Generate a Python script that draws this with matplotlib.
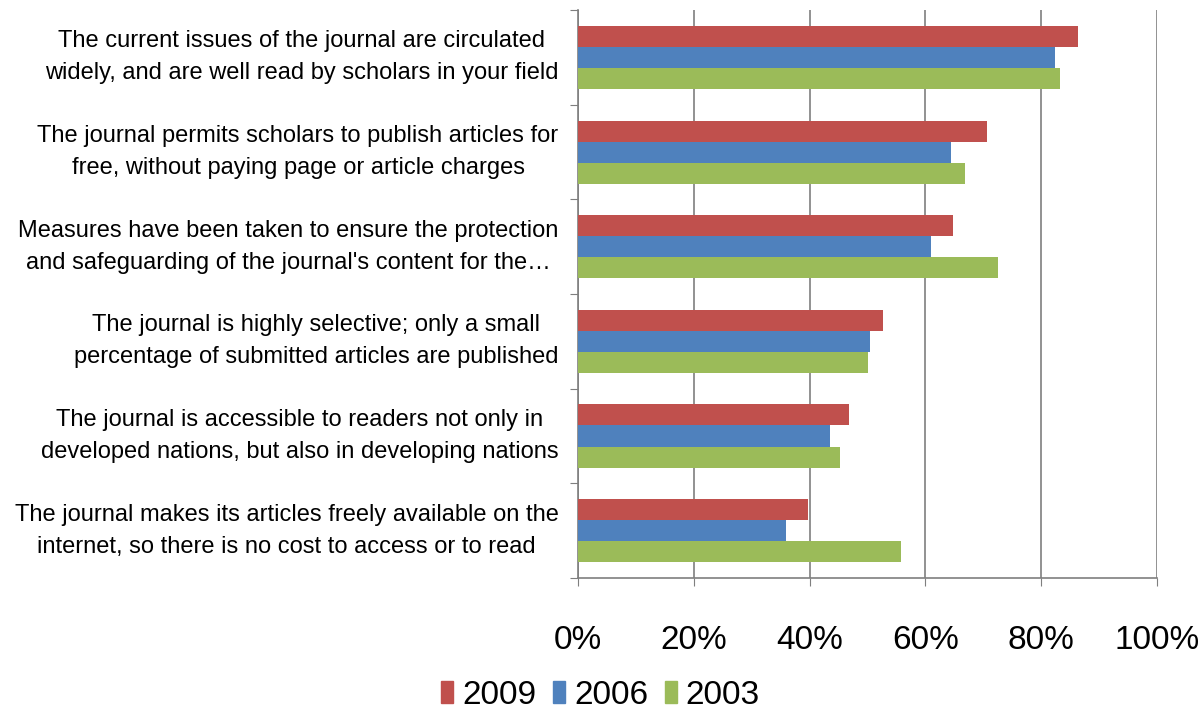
import matplotlib.pyplot as plt
from matplotlib.patches import Patch
import numpy as np

plt.rcParams['font.family'] = ['Liberation Sans', 'DejaVu Sans']

labels = [
    "The current issues of the journal are circulated\nwidely, and are well read by scholars in your field",
    "The journal permits scholars to publish articles for\nfree, without paying page or article charges",
    "Measures have been taken to ensure the protection\nand safeguarding of the journal's content for the\u2026",
    "The journal is highly selective; only a small\npercentage of submitted articles are published",
    "The journal is accessible to readers not only in\ndeveloped nations, but also in developing nations",
    "The journal makes its articles freely available on the\ninternet, so there is no cost to access or to read",
]
years = ['2009', '2006', '2003']
v2009 = [86.4, 70.7, 64.7, 52.7, 46.8, 39.7]
v2006 = [82.3, 64.4, 61.0, 50.4, 43.6, 35.9]
v2003 = [83.2, 66.8, 72.5, 50.1, 45.3, 55.8]
colors = ['#C0504D', '#4F81BD', '#9BBB59']

fig = plt.figure(figsize=(12.02, 7.18), dpi=100)
ax = fig.add_axes([0.4809, 0.195, 0.4817, 0.791])

y = np.arange(len(labels))
h = 0.222
for k, (vals, c) in enumerate(zip([v2009, v2006, v2003], colors)):
    ax.barh(y + (k - 1) * h, vals, height=h, color=c, zorder=3)

ax.set_xlim(0, 100)
ax.set_ylim(len(labels) - 0.5, -0.5)

ax.set_xticks(np.arange(0, 101, 20))
ax.set_xticklabels([f'{t}%' for t in range(0, 101, 20)], fontsize=24)
ax.tick_params(axis='x', length=6, color='#7f7f7f', pad=28)
ax.grid(axis='x', color='#7f7f7f', linewidth=1.2, zorder=0)

ax.set_yticks(np.arange(-0.5, len(labels), 1))
ax.set_yticklabels([])
ax.tick_params(axis='y', length=6, color='#7f7f7f')

for s in ['top', 'right']:
    ax.spines[s].set_visible(False)
for s in ['left', 'bottom']:
    ax.spines[s].set_color('#7f7f7f')
    ax.spines[s].set_linewidth(1.2)

for i, lab in enumerate(labels):
    ax.annotate(lab, xy=(0, i), xycoords=('axes fraction', 'data'),
                xytext=(-14, 0), textcoords='offset points',
                ha='right', va='center', multialignment='center',
                fontsize=17, linespacing=1.6)

handles = [Patch(color=c) for c in colors]
fig.legend(handles, years, loc='center left', bbox_to_anchor=(0.342, 0.032),
           ncol=3, frameon=False, fontsize=24, handlelength=0.36,
           handleheight=0.65, handletextpad=0.27, columnspacing=0.5)

fig.savefig('out.png', dpi=100)
